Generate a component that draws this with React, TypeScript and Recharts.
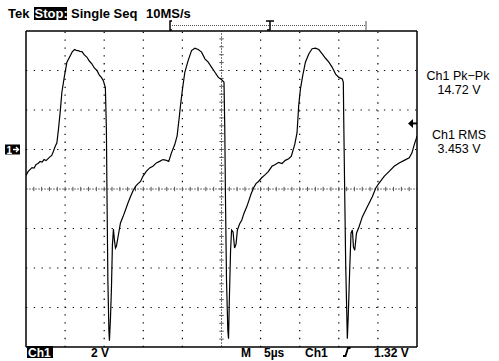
import React from 'react';
import { LineChart, Line, XAxis, YAxis, ReferenceLine, ReferenceDot } from 'recharts';

// scope setup: 5 µs/div over 10 div, 2 V/div over 8 div, Ch1 ground one div above centre
const timeDomain: [number, number] = [0, 50];
const voltDomain: [number, number] = [-10, 6];
const centreTime = 25;
const centreVolts = -2;
const triggerLevel = 1.32;

// trace, one period at a time (µs / V)
const periodOneUs = [0, 0.26, 0.51, 0.77, 1.03, 1.29, 1.54, 1.8, 2.06, 2.31, 2.57, 2.83, 3.08, 3.28, 3.51, 3.73, 3.95, 4.15, 4.37, 4.59, 4.92, 5.23, 5.66, 5.91, 6.21, 6.43, 6.65, 6.88, 7.16, 7.46, 7.8, 8.1, 8.44, 8.74, 9.09, 9.38, 9.64, 9.9, 10.15, 10.28, 10.35, 10.47, 10.6, 10.67, 10.8, 10.92, 11.05, 11.18, 11.31, 11.44, 11.57, 11.79, 12.08, 12.4, 12.72, 13.05, 13.37, 13.69, 14.01, 14.33, 14.65];
const periodOneV = [-1.32, -1.12, -1.02, -0.92, -0.94, -0.76, -0.71, -0.61, -0.64, -0.51, -0.56, -0.46, -0.36, -0.31, -0.09, 0.15, 0.34, 1.02, 1.89, 2.9, 3.73, 4.42, 4.75, 4.94, 5.06, 5.02, 5.01, 4.97, 4.96, 4.79, 4.67, 4.48, 4.33, 4.13, 3.99, 3.77, 3.65, 3.47, 3.14, 1.02, -2.04, -6.62, -9.17, -9.68, -8.56, -7.13, -4.84, -4.03, -4.59, -4.99, -4.89, -4.38, -3.72, -3.41, -3.06, -2.7, -2.38, -2.09, -1.87, -1.73, -1.62];

const periodTwoUs = [14.95, 15.38, 15.81, 16.23, 16.67, 17.09, 17.52, 17.96, 18.25, 18.6, 19.02, 19.32, 19.57, 19.75, 20.01, 20.31, 20.73, 21.17, 21.59, 22.02, 22.45, 22.88, 23.3, 23.74, 24.16, 24.59, 25.03, 25.32, 25.42, 25.51, 25.64, 25.81, 25.9, 26.0, 26.16, 26.29, 26.48, 26.67, 26.86, 27.03, 27.31, 27.6, 27.89, 28.24, 28.53, 28.79, 29.09, 29.41, 29.73, 30.14, 30.59, 30.98];
const periodTwoV = [-1.36, -1.11, -0.93, -0.85, -0.68, -0.6, -0.51, -0.55, -0.6, -0.17, 0.25, 0.68, 1.53, 2.21, 3.06, 3.91, 4.5, 5.01, 5.13, 5.06, 4.93, 4.59, 4.42, 4.16, 3.91, 3.65, 3.53, 3.4, 1.02, -2.55, -6.62, -9.17, -9.58, -7.64, -5.1, -4.08, -4.18, -4.99, -4.79, -4.08, -3.77, -3.57, -3.21, -2.89, -2.55, -2.24, -1.95, -1.73, -1.62, -1.43, -1.27, -1.12];

const periodThreeUs = [31.45, 31.88, 32.31, 32.74, 33.16, 33.59, 33.93, 34.36, 34.66, 34.87, 35.09, 35.38, 35.73, 36.16, 36.59, 37.02, 37.44, 37.88, 38.3, 38.73, 39.16, 39.59, 40.01, 40.45, 40.58, 40.62, 40.75, 40.88, 41.09, 41.22, 41.39, 41.56, 41.74, 41.87, 42.04, 42.26, 42.59, 43.02, 43.44, 43.87, 44.3, 44.73, 45.15, 45.8, 46.44, 47.08, 47.72, 48.37, 49.01, 49.36, 49.65, 49.87, 50];
const periodThreeV = [-0.85, -0.76, -0.65, -0.71, -0.55, -0.47, -0.34, 0.25, 0.85, 2.21, 3.06, 3.73, 4.42, 4.84, 5.1, 5.13, 5.06, 4.84, 4.62, 4.42, 4.16, 3.82, 3.65, 3.57, 3.4, 1.87, -2.04, -5.77, -9.58, -8.32, -6.11, -4.24, -4.08, -4.93, -5.1, -4.24, -3.91, -3.4, -3.06, -2.72, -2.38, -1.95, -1.7, -1.36, -1.11, -0.85, -0.68, -0.55, -0.42, -0.17, 0.25, 0.51, 0.68];

// graticule
const gridTimes = [5, 10, 15, 20, 30, 35, 40, 45];
const gridVolts = [-8, -6, -4, 0, 2, 4];
const minorTimes = Array.from({ length: 51 }, (_, i) => i);
const minorVolts = Array.from({ length: 41 }, (_, i) => Math.round((-10 + i * 0.4) * 10) / 10);

// readouts
const headerWords = ['Tek', 'Stop:', 'Single Seq', '10MS/s'];
const footerWords = ['Ch1', '2 V', 'M', '5µs', 'Ch1', '1.32 V'];
const measureNames = ['Ch1 Pk\u2212Pk', 'Ch1 RMS'];
const measureValues = ['14.72 V', '3.453 V'];

const trace = [
  ...periodOneUs.map((t, i) => ({ t, v: periodOneV[i] })),
  ...periodTwoUs.map((t, i) => ({ t, v: periodTwoV[i] })),
  ...periodThreeUs.map((t, i) => ({ t, v: periodThreeV[i] })),
];

const FONT = '"Liberation Sans", Arial, sans-serif';

const GroundMarker = ({ cx, cy }: any) => (
  <g>
    <rect x={cx - 21} y={cy - 5} width={15} height={10} fill="#000" />
    <text x={cx - 19.5} y={cy + 4} fontSize={10} fontWeight="bold" fill="#fff" fontFamily={FONT}>1</text>
    <path d={`M${cx - 13},${cy} L${cx - 8},${cy} M${cx - 10},${cy - 2.5} L${cx - 7.5},${cy} L${cx - 10},${cy + 2.5}`} stroke="#fff" strokeWidth={1.4} fill="none" />
  </g>
);

const TriggerMarker = ({ cx, cy }: any) => (
  <g>
    <path d={`M${cx - 9},${cy} L${cx - 4},${cy - 4.5} L${cx - 4},${cy + 4.5} Z`} fill="#000" />
    <rect x={cx - 4} y={cy - 1} width={4} height={2} fill="#000" />
  </g>
);

const ScreenText = () => (
  <svg width={499} height={361} style={{ position: 'absolute', left: 0, top: 0, pointerEvents: 'none' }}>
    <g fontFamily={FONT} fontWeight="bold" fontSize={13} fill="#000">
      <text x={8} y={18}>{headerWords[0]}</text>
      <rect x={34} y={7} width={33} height={13} fill="#000" />
      <text x={34.5} y={18} fill="#fff">{headerWords[1]}</text>
      <text x={71} y={18}>{headerWords[2]}</text>
      <text x={146} y={18}>{headerWords[3]}</text>
    </g>
    {/* record position bar */}
    <path d="M172,21 L170,21 L170,30 L172,30" stroke="#000" strokeWidth={1.5} fill="none" />
    <line x1={172} y1={25.5} x2={366} y2={25.5} stroke="#555" strokeDasharray="1 1" />
    <line x1={366} y1={21} x2={366} y2={30} stroke="#555" strokeWidth={1} />
    <path d="M266,21 L274,21 M270,21 L270,30 L267,30" stroke="#000" strokeWidth={1.5} fill="none" />

    <g fontFamily={FONT} fontWeight="bold" fontSize={12} fill="#000">
      <rect x={27} y={346} width={26} height={12} fill="#000" />
      <text x={28} y={357} fill="#fff">{footerWords[0]}</text>
      <text x={91} y={357}>{footerWords[1]}</text>
      <text x={241} y={357}>{footerWords[2]}</text>
      <text x={264} y={357}>{footerWords[3]}</text>
      <text x={305} y={357}>{footerWords[4]}</text>
      <path d="M343,356 L345.5,356 L348,348 L350.5,348" stroke="#000" strokeWidth={1.8} fill="none" />
      <text x={374} y={357}>{footerWords[5]}</text>
    </g>

    <g fontFamily={FONT} fontSize={12.5} fill="#000" textAnchor="middle">
      <text x={458} y={80}>{measureNames[0]}</text>
      <text x={459} y={94}>{measureValues[0]}</text>
      <text x={459} y={139}>{measureNames[1]}</text>
      <text x={459} y={153}>{measureValues[1]}</text>
    </g>
  </svg>
);

const App: React.FC = () => (
  <div style={{ position: 'absolute', left: 0, top: 0, width: 499, height: 361, background: '#fff' }}>
    <LineChart width={499} height={361} data={trace} margin={{ top: 31, right: 82, bottom: 14, left: 26 }}>
      <XAxis xAxisId="b" dataKey="t" type="number" domain={timeDomain} ticks={minorTimes} interval={0}
        height={1} mirror tick={false} tickSize={4} tickLine={{ stroke: '#000' }} axisLine={{ stroke: '#000', strokeWidth: 1.5 }} allowDataOverflow />
      <XAxis xAxisId="top" orientation="top" dataKey="t" type="number" domain={timeDomain} ticks={minorTimes} interval={0}
        height={1} mirror tick={false} tickSize={4} tickLine={{ stroke: '#000' }} axisLine={{ stroke: '#000', strokeWidth: 1.5 }} allowDataOverflow />
      <YAxis yAxisId="l" type="number" domain={voltDomain} ticks={minorVolts} interval={0}
        width={1} mirror tick={false} tickSize={4} tickLine={{ stroke: '#000' }} axisLine={{ stroke: '#000', strokeWidth: 1.5 }} allowDataOverflow />
      <YAxis yAxisId="r" orientation="right" type="number" domain={voltDomain} ticks={minorVolts} interval={0}
        width={1} mirror tick={false} tickSize={4} tickLine={{ stroke: '#000' }} axisLine={{ stroke: '#000', strokeWidth: 1.5 }} allowDataOverflow />

      {gridTimes.map(t => (
        <ReferenceLine key={`gx${t}`} xAxisId="b" yAxisId="l" x={t} stroke="#000" strokeWidth={1.2} strokeDasharray="1.3 6.55" />
      ))}
      {gridVolts.map(v => (
        <ReferenceLine key={`gy${v}`} xAxisId="b" yAxisId="l" y={v} stroke="#000" strokeWidth={1.2} strokeDasharray="1.3 6.48" />
      ))}
      <ReferenceLine xAxisId="b" yAxisId="l" x={centreTime} stroke="#777" strokeDasharray="2 1" />
      <ReferenceLine xAxisId="b" yAxisId="l" y={centreVolts} stroke="#777" strokeDasharray="2 1" />
      {minorTimes.filter(t => t > 0 && t < 50).map(t => (
        <ReferenceLine key={`cx${t}`} xAxisId="b" yAxisId="l" stroke="#555"
          segment={[{ x: t, y: centreVolts - 0.11 }, { x: t, y: centreVolts + 0.11 }]} />
      ))}
      {minorVolts.filter(v => v > -10 && v < 6).map(v => (
        <ReferenceLine key={`cy${v}`} xAxisId="b" yAxisId="l" stroke="#555"
          segment={[{ x: centreTime - 0.28, y: v }, { x: centreTime + 0.28, y: v }]} />
      ))}

      <Line xAxisId="b" yAxisId="l" dataKey="v" type="linear" stroke="#000" strokeWidth={1.2}
        dot={false} activeDot={false} isAnimationActive={false} />

      <ReferenceDot xAxisId="b" yAxisId="l" x={0} y={0} ifOverflow="visible" shape={GroundMarker} />
      <ReferenceDot xAxisId="b" yAxisId="l" x={50} y={triggerLevel} ifOverflow="visible" shape={TriggerMarker} />
    </LineChart>
    <ScreenText />
  </div>
);

export default App;
